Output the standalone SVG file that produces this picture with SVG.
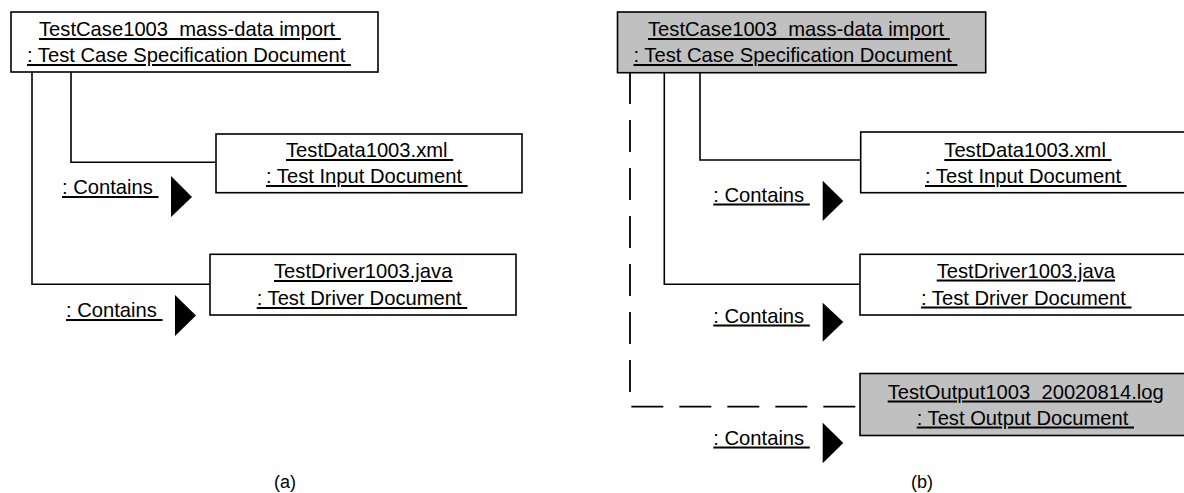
<svg xmlns="http://www.w3.org/2000/svg" width="1184" height="493" viewBox="0 0 1184 493">
<style>
text{font-family:"Liberation Sans",Arial,sans-serif;font-size:20.2px;fill:#000;white-space:pre}
.u{text-decoration:underline}
.box{fill:#fff;stroke:#000;stroke-width:1.6}
.gray{fill:#c0c0c0;stroke:#000;stroke-width:1.6}
.ln{fill:none;stroke:#000;stroke-width:1.6}
.dash{fill:none;stroke:#000;stroke-width:1.8;stroke-dasharray:32 16}
.arr{fill:#000;stroke:none}
.cap{font-size:18px}
</style>
<rect width="1184" height="493" fill="#fff"/>
<g id="connectors">
  <path class="ln" d="M71,72 V162.3 H216"/>
  <path class="ln" d="M32,72 V284.3 H210"/>
  <path class="ln" d="M700,72.7 V160 H860.7"/>
  <path class="ln" d="M664.3,72.7 V284.3 H860"/>
  <path class="dash" d="M630,72 V406.7 H860"/>
  <g id="label-a1"><text class="u" x="62" y="194" xml:space="preserve">: Contains </text><polygon class="arr" points="171,176 192,197 171,217"/></g>
  <g id="label-a2"><text class="u" x="66" y="317" xml:space="preserve">: Contains </text><polygon class="arr" points="175,295 196,315.5 175,336"/></g>
  <g id="label-b1"><text class="u" x="713.3" y="201.5" xml:space="preserve">: Contains </text><polygon class="arr" points="822.7,180.7 843.3,201 822.7,221"/></g>
  <g id="label-b2"><text class="u" x="713.3" y="322.5" xml:space="preserve">: Contains </text><polygon class="arr" points="822.7,302.7 843.3,322 822.7,341.7"/></g>
  <g id="label-b3"><text class="u" x="713.3" y="444.5" xml:space="preserve">: Contains </text><polygon class="arr" points="822.7,422.7 843.3,443 822.7,463.3"/></g>
</g>
<g id="a-testcase">
  <rect class="box" x="11" y="12" width="367" height="60"/>
  <text class="u" x="39" y="36" xml:space="preserve">TestCase1003  mass-data import </text>
  <text class="u" x="27" y="62" xml:space="preserve">: Test Case Specification Document </text>
</g>
<g id="a-testdata">
  <rect class="box" x="216" y="134" width="306" height="58.7"/>
  <text class="u" x="286" y="157" xml:space="preserve">TestData1003.xml </text>
  <text class="u" x="266" y="183" xml:space="preserve">: Test Input Document </text>
</g>
<g id="a-testdriver">
  <rect class="box" x="210" y="254.3" width="306" height="60.7"/>
  <text class="u" x="274" y="278" xml:space="preserve">TestDriver1003.java</text>
  <text class="u" x="256.7" y="305" xml:space="preserve">: Test Driver Document </text>
</g>
<g id="b-testcase">
  <rect class="gray" x="617.5" y="12" width="368.2" height="60.7"/>
  <text class="u" x="648" y="36" xml:space="preserve">TestCase1003  mass-data import </text>
  <text class="u" x="633.5" y="62" xml:space="preserve">: Test Case Specification Document </text>
</g>
<g id="b-testdata">
  <rect class="box" x="860.7" y="132" width="340" height="60.7"/>
  <text class="u" x="944.3" y="157" xml:space="preserve">TestData1003.xml </text>
  <text class="u" x="925" y="183" xml:space="preserve">: Test Input Document </text>
</g>
<g id="b-testdriver">
  <rect class="box" x="860" y="254.3" width="340" height="60.7"/>
  <text class="u" x="936.7" y="277.5" xml:space="preserve">TestDriver1003.java</text>
  <text class="u" x="921" y="304.5" xml:space="preserve">: Test Driver Document </text>
</g>
<g id="b-testoutput">
  <rect class="gray" x="860" y="373.5" width="340" height="62"/>
  <text class="u" x="887.7" y="398.5" xml:space="preserve">TestOutput1003  20020814.log</text>
  <text class="u" x="916.7" y="424.5" xml:space="preserve">: Test Output Document </text>
</g>
<g id="captions">
  <text class="cap" x="285" y="488" text-anchor="middle">(a)</text>
  <text class="cap" x="922" y="488" text-anchor="middle">(b)</text>
</g>
</svg>
